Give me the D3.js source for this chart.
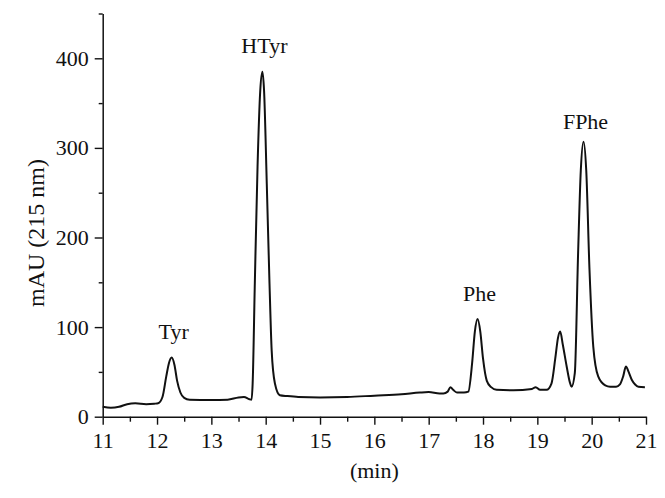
<!DOCTYPE html>
<html>
<head>
<meta charset="utf-8">
<script src="https://cdn.jsdelivr.net/npm/d3@7"></script>
<style>
  body { margin: 0; background: #fff; }
  svg text { font-family: "Liberation Serif", "DejaVu Serif", serif; fill: #111; }
</style>
</head>
<body>
<div id="chart"></div>
<script>
// ************************** data **************************
// retention time (min) and absorbance (mAU at 215 nm)
const times = [
  11.0, 11.15, 11.3, 11.45, 11.6, 11.8, 11.95, 12.02, 12.1, 12.17, 12.22, 12.27,
  12.32, 12.37, 12.43, 12.5, 12.6, 13.0, 13.3, 13.5, 13.6, 13.7, 13.74, 13.76,
  13.8, 13.85, 13.9, 13.94, 13.97, 14.02, 14.07, 14.11, 14.17, 14.26, 14.4,
  14.6, 15.0, 15.5, 16.0, 16.5, 16.84, 17.0, 17.2, 17.27, 17.35, 17.4, 17.45,
  17.52, 17.65, 17.73, 17.8, 17.85, 17.9, 17.95, 18.0, 18.07, 18.15, 18.25,
  18.56, 18.9, 18.97, 19.05, 19.17, 19.26, 19.33, 19.38, 19.42, 19.47, 19.54,
  19.6, 19.63, 19.69, 19.75, 19.8, 19.85, 19.9, 19.96, 20.03, 20.12, 20.25,
  20.34, 20.45, 20.52, 20.58, 20.63, 20.68, 20.74, 20.8, 20.86, 20.98
];
const mau = [
  11, 10, 11, 14, 15, 14, 14.5, 15, 22, 45, 60, 66,
  58, 40, 27, 21, 19, 18.5, 19, 21.5, 22, 19.5, 19, 37,
  149, 279, 364, 385, 364, 260, 149, 74, 37, 24, 23,
  22, 21.5, 22, 23.5, 25, 27, 27.5, 26, 26, 28, 33, 30,
  27, 27, 28, 60, 95, 109, 95, 65, 40, 33, 30,
  29.5, 31, 33, 30, 30, 37, 65, 88, 95, 80, 56,
  38, 33.5, 49, 182, 275, 307, 275, 164, 78, 45, 35,
  33.5, 33.5, 36, 45, 56, 50, 41, 36, 33.5, 33
];

const peakNames = ["Tyr", "HTyr", "Phe", "FPhe"];
const peakTimes = [12.27, 13.94, 17.9, 19.85];
const peakValues = [66, 385, 109, 307];

const xTicks = d3.range(11, 21.01, 1);
const xMinor = d3.range(11.5, 21, 1);
const yTicks = [0, 100, 200, 300, 400];
const yMinor = [50, 150, 250, 350, 450];

// ************************** chart **************************
const width = 665;
const height = 498;
const marginLeft = 102.7;
const marginRight = 19;
const marginTop = 13.5;
const marginBottom = 81.3;

const xScale = d3.scaleLinear([11, 21], [marginLeft, width - marginRight]);
const yScale = d3.scaleLinear([0, 450], [height - marginBottom, marginTop]);

const svg = d3
  .create("svg")
  .attr("width", width)
  .attr("height", height);

// minor ticks first, then the labelled axes on top
svg
  .append("g")
  .attr("transform", `translate(0,${yScale(0)})`)
  .call(d3.axisBottom(xScale).tickValues(xMinor).tickSize(5).tickFormat(""))
  .call((g) => g.select(".domain").remove());

svg
  .append("g")
  .attr("transform", `translate(${marginLeft},0)`)
  .call(d3.axisLeft(yScale).tickValues(yMinor).tickSize(4).tickFormat(""))
  .call((g) => g.select(".domain").remove());

const xAxis = svg
  .append("g")
  .attr("transform", `translate(0,${yScale(0)})`)
  .call(
    d3.axisBottom(xScale).tickValues(xTicks).tickSize(8).tickSizeOuter(0)
      .tickPadding(6).tickFormat(d3.format("d"))
  );

const yAxis = svg
  .append("g")
  .attr("transform", `translate(${marginLeft},0)`)
  .call(
    d3.axisLeft(yScale).tickValues(yTicks).tickSize(8).tickSizeOuter(0)
      .tickPadding(6)
  );

svg.selectAll(".tick line").attr("stroke", "#111").attr("stroke-width", 1.4);
svg.selectAll(".domain").attr("stroke", "#111").attr("stroke-width", 1.5);
svg.selectAll(".tick text").attr("font-size", 22).attr("fill", "#111");
xAxis.selectAll(".tick text").attr("dy", "0.78em");

// axis titles
svg
  .append("text")
  .attr("x", (xScale(11) + xScale(21)) / 2)
  .attr("y", 478)
  .attr("text-anchor", "middle")
  .attr("font-size", 22)
  .text("(min)");

svg
  .append("text")
  .attr("transform", `translate(44,${yScale(205)}) rotate(-90)`)
  .attr("text-anchor", "middle")
  .attr("font-size", 24)
  .text("mAU (215 nm)");

// the trace
const line = d3
  .line()
  .curve(d3.curveMonotoneX)
  .x((d, i) => xScale(times[i]))
  .y((d) => yScale(d));

svg
  .append("path")
  .attr("fill", "none")
  .attr("stroke", "#111")
  .attr("stroke-width", 2)
  .attr("stroke-linejoin", "round")
  .attr("d", line(mau));

// peak labels
const gap = { FPhe: 13 };
svg
  .append("g")
  .selectAll("text")
  .data(peakNames)
  .join("text")
  .attr("x", (d, i) => xScale(peakTimes[i]) + 2)
  .attr("y", (d, i) => yScale(peakValues[i]) - (gap[d] || 18.5))
  .attr("text-anchor", "middle")
  .attr("font-size", 22)
  .text((d) => d);

d3.select("#chart").node().appendChild(svg.node());
</script>
</body>
</html>
